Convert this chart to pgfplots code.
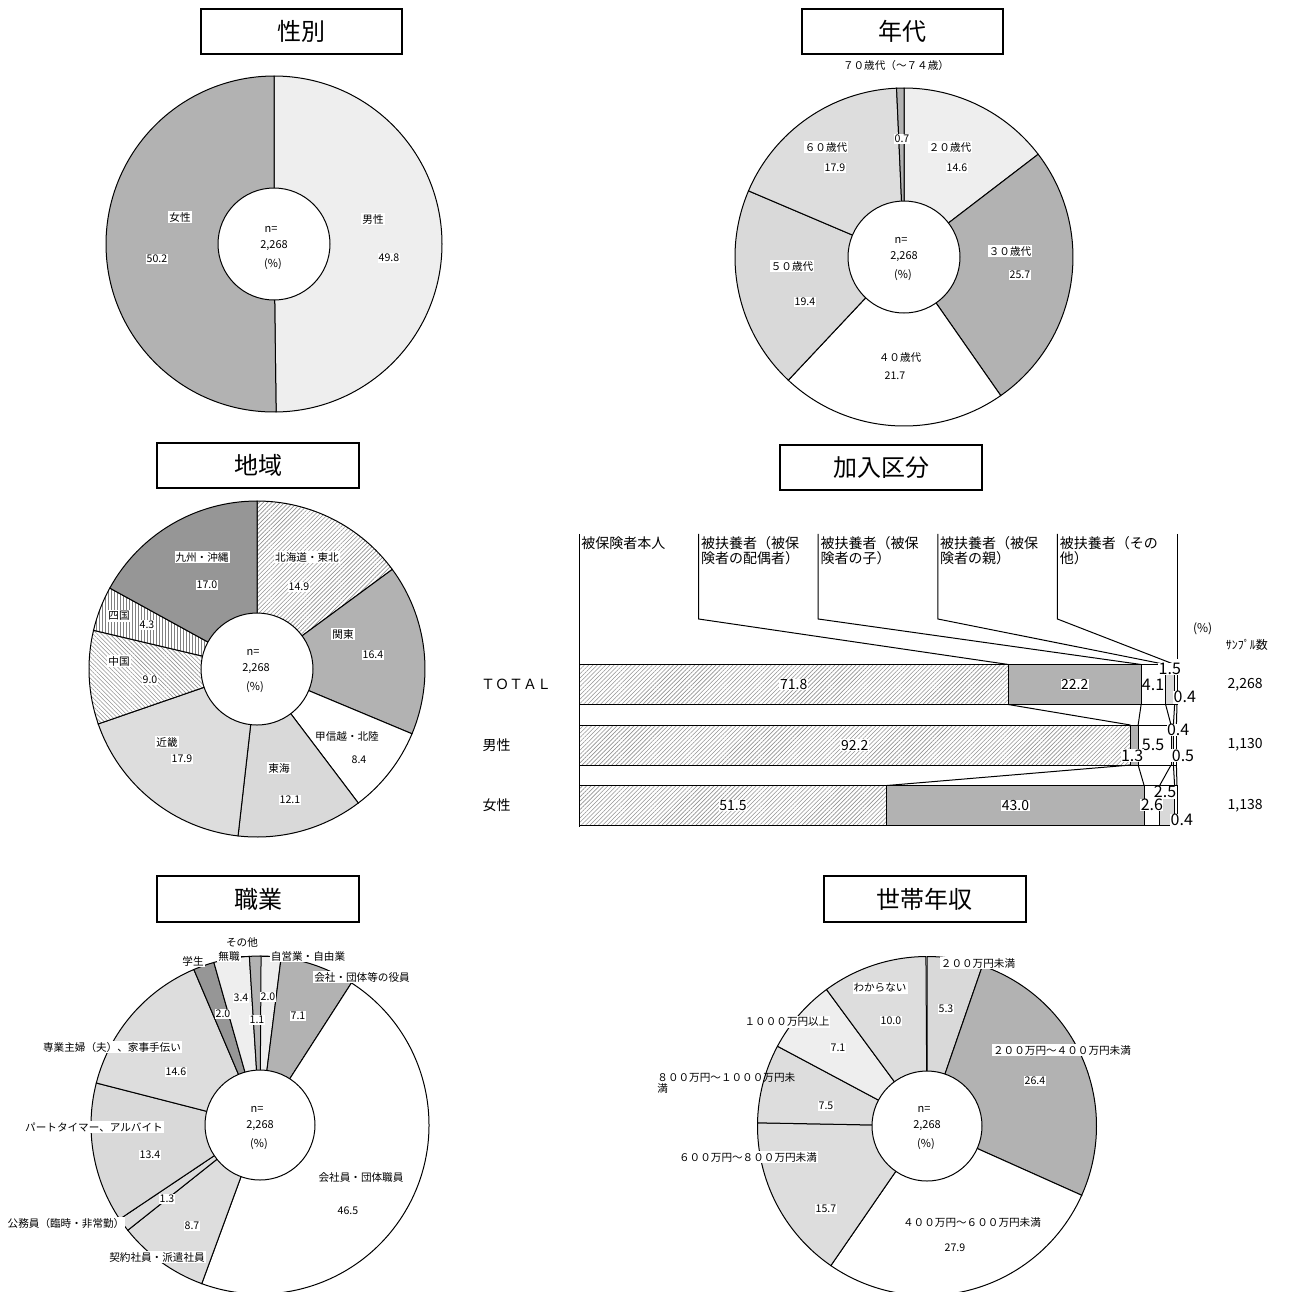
\documentclass[border=0pt]{standalone}
\usepackage{pgfplots}
\pgfplotsset{compat=1.18}
\usepackage{fontspec}
\setmainfont{Noto Sans CJK JP}
\usetikzlibrary{patterns.meta}

\definecolor{cMid}{HTML}{B2B2B2}
\definecolor{cDark}{HTML}{969696}
\definecolor{cLight}{HTML}{DDDDDD}
\definecolor{cDotS}{HTML}{EEEEEE}
\definecolor{cDotD}{HTML}{D9D9D9}

\tikzset{
  wedge/.style={draw=black, line width=0.5pt},
  sMid/.style={fill=cMid},
  sDark/.style={fill=cDark},
  sLight/.style={fill=cLight},
  sWhite/.style={fill=white},
  sDotS/.style={fill=cDotS},
  sDotD/.style={fill=cDotD},
  sDiagL/.style={preaction={fill=white}, pattern={Lines[angle=45,distance=1.5pt,line width=0.3pt]}, pattern color=gray!85},
  sDiagR/.style={preaction={fill=white}, pattern={Lines[angle=-45,distance=1.5pt,line width=0.3pt]}, pattern color=gray!85},
  sVert/.style={preaction={fill=white}, pattern={Lines[angle=90,distance=1.5pt,line width=0.3pt]}, pattern color=gray},
  lab/.style={font=\fontsize{5.3}{6}\selectfont, fill=white, inner sep=0.5pt},
  ctr/.style={font=\fontsize{5.5}{6}\selectfont, inner sep=0pt},
  ttl/.style={font=\fontsize{12}{13}\selectfont},
  barlab/.style={font=\fontsize{7}{8}\selectfont, fill=white, inner sep=0.3pt},
  smlab/.style={font=\fontsize{8}{9}\selectfont, fill=white, inner sep=0.2pt},
  hdr/.style={font=\fontsize{7}{7.5}\selectfont, anchor=north west, align=left, inner sep=1pt},
}

% donut: cx, cy (pixel units of the background axis), R, r, list value/style (clockwise from top)
\newcommand{\donut}[5]{%
  \gdef\cum{0}%
  \foreach \v/\st in {#5}{%
    \pgfmathsetmacro\aa{90-3.6*\cum}%
    \pgfmathsetmacro\bb{90-3.6*(\cum+\v)}%
    \edef\temp{\noexpand\filldraw[wedge,\st] (axis cs:#1,#2) -- ++(\aa:#3) arc[start angle=\aa,end angle=\bb,radius=#3] -- cycle;}%
    \temp
    \pgfmathsetmacro\nc{\cum+\v}%
    \global\let\cum\nc
  }%
  \filldraw[wedge,fill=white] (axis cs:#1,#2) circle[radius=#4];
}
\newcommand{\ttlbox}[5]{%
  \draw[line width=0.75pt] (axis cs:#1,#2) rectangle (axis cs:#3,#4);
  \node[ttl] at (axis cs:{(#1+#3)/2},{(#2+#4)/2}) {#5};
}
\newcommand{\ctrtext}[2]{%
  \node[ctr] at (axis cs:#1-3,#2-17) {n=};
  \node[ctr] at (axis cs:#1,#2) {2,268};
  \node[ctr] at (axis cs:#1-1,#2+18) {(\%)};
}
\pgfplotsset{baraxis/.style={at={(289.5pt,232.5pt)}, anchor=south west, scale only axis,
  width=299pt, height=146.5pt, xmin=0, xmax=100, ymin=-2.488, ymax=2.355,
  y dir=reverse, hide axis, clip=false}}

\begin{document}
\begin{tikzpicture}
\useasboundingbox (0,0) rectangle (644.5pt,646pt);
% ---------- background axis in pixel units: pies, titles ----------
\begin{axis}[at={(0pt,0pt)}, anchor=south west, hide axis, x=0.5pt, y=0.5pt,
  xmin=0, xmax=1289, ymin=0, ymax=1292, y dir=reverse, clip=false]
\addplot[draw=none] coordinates {(0,0)};

% ===== 性別 =====
\ttlbox{201}{9}{402}{54}{性別}
\donut{274}{244}{84pt}{28pt}{49.8/sDotS, 50.2/sMid}
\ctrtext{274}{246}
\node[lab] at (axis cs:180,217) {女性};
\node[lab] at (axis cs:157,259) {50.2};
\node[lab] at (axis cs:373,219) {男性};
\node[lab] at (axis cs:389,258) {49.8};

% ===== 年代 =====
\ttlbox{802}{9}{1003}{54}{年代}
\node[font=\fontsize{5.3}{6}\selectfont] at (axis cs:896,65) {７０歳代（～７４歳）};
\donut{904}{257}{84.5pt}{28pt}{14.6/sDotS, 25.7/sMid, 21.7/sWhite, 19.4/sDotD, 17.9/sLight, 0.7/sMid}
\ctrtext{904}{257}
\node[lab] at (axis cs:950,147) {２０歳代};
\node[lab] at (axis cs:957,168) {14.6};
\node[lab] at (axis cs:1010,251) {３０歳代};
\node[lab] at (axis cs:1020,275) {25.7};
\node[lab] at (axis cs:900,357) {４０歳代};
\node[lab] at (axis cs:895,376) {21.7};
\node[lab] at (axis cs:792,266) {５０歳代};
\node[lab] at (axis cs:805,302) {19.4};
\node[lab] at (axis cs:826,147) {６０歳代};
\node[lab] at (axis cs:835,168) {17.9};
\node[lab] at (axis cs:902,139) {0.7};

% ===== 地域 =====
\ttlbox{157}{443}{359}{488}{地域}
\donut{257}{669}{84pt}{28pt}{14.9/sDiagL, 16.4/sMid, 8.4/sWhite, 12.1/sDotD, 17.9/sLight, 9.0/sDiagR, 4.3/sVert, 17.0/sDark}
\ctrtext{256}{669}
\node[lab] at (axis cs:202,557) {九州・沖縄};
\node[lab] at (axis cs:207,585) {17.0};
\node[lab] at (axis cs:307,557) {北海道・東北};
\node[lab] at (axis cs:299,587) {14.9};
\node[lab] at (axis cs:343,634) {関東};
\node[lab] at (axis cs:373,655) {16.4};
\node[lab] at (axis cs:347,736) {甲信越・北陸};
\node[lab] at (axis cs:359,760) {8.4};
\node[lab] at (axis cs:279,768) {東海};
\node[lab] at (axis cs:290,800) {12.1};
\node[lab] at (axis cs:167,742) {近畿};
\node[lab] at (axis cs:182,759) {17.9};
\node[lab] at (axis cs:119,661) {中国};
\node[lab] at (axis cs:150,680) {9.0};
\node[lab] at (axis cs:119,616) {四国};
\node[lab] at (axis cs:147,625) {4.3};

% ===== 加入区分 title =====
\ttlbox{780}{445}{982}{490}{加入区分}

% ===== 職業 =====
\ttlbox{157}{876}{359}{922}{職業}
\donut{260}{1125}{84.5pt}{27.5pt}{2.0/sDotS, 7.1/sMid, 46.5/sWhite, 8.7/sLight, 1.3/sLight, 13.4/sDotD, 14.6/sLight, 2.0/sDark, 3.4/sDotS, 1.1/sMid}
\ctrtext{260}{1126}
\draw[line width=0.4pt] (axis cs:241,956) -- (axis cs:252,956);
\draw[line width=0.4pt] (axis cs:262,956) -- (axis cs:271,956);
\node[lab] at (axis cs:362,977) {会社・団体等の役員};
\node[lab] at (axis cs:298,1016) {7.1};
\node[lab] at (axis cs:268,997) {2.0};
\node[lab] at (axis cs:257,1020) {1.1};
\node[lab] at (axis cs:241,998) {3.4};
\node[lab] at (axis cs:223,1014) {2.0};
\node[lab] at (axis cs:193,961) {学生};
\node[lab] at (axis cs:229,956) {無職};
\node[lab] at (axis cs:242,942) {その他};
\node[lab] at (axis cs:308,956) {自営業・自由業};
\node[lab] at (axis cs:112,1047) {専業主婦（夫）、家事手伝い};
\node[lab] at (axis cs:176,1072) {14.6};
\node[lab] at (axis cs:94,1127) {パートタイマー、アルバイト};
\node[lab] at (axis cs:150,1155) {13.4};
\node[lab] at (axis cs:167,1199) {1.3};
\node[lab] at (axis cs:66,1223) {公務員（臨時・非常勤）};
\node[lab] at (axis cs:192,1226) {8.7};
\node[lab] at (axis cs:157,1257) {契約社員・派遣社員};
\node[lab] at (axis cs:361,1177) {会社員・団体職員};
\node[lab] at (axis cs:348,1211) {46.5};

% ===== 世帯年収 =====
\ttlbox{824}{876}{1026}{922}{世帯年収}
\donut{927}{1126}{84.75pt}{27.5pt}{5.3/sDotD, 26.4/sMid, 27.9/sWhite, 15.7/sLight, 7.5/sLight, 7.1/sDotS, 10.0/sLight}
\ctrtext{927}{1126}
\node[lab] at (axis cs:978,963) {２００万円未満};
\node[lab] at (axis cs:946,1009) {5.3};
\node[lab] at (axis cs:1062,1050) {２００万円～４００万円未満};
\node[lab] at (axis cs:1035,1081) {26.4};
\node[lab] at (axis cs:972,1222) {４００万円～６００万円未満};
\node[lab] at (axis cs:955,1248) {27.9};
\node[lab] at (axis cs:748,1157) {６００万円～８００万円未満};
\node[lab] at (axis cs:826,1209) {15.7};
\node[lab, anchor=north west, align=left, font=\fontsize{5.3}{5.8}\selectfont, fill=none] at (axis cs:656,1071) {８００万円～１０００万円未\\満};
\node[lab] at (axis cs:826,1106) {7.5};
\node[lab] at (axis cs:787,1022) {１０００万円以上};
\node[lab] at (axis cs:838,1048) {7.1};
\node[lab] at (axis cs:880,988) {わからない};
\node[lab] at (axis cs:891,1021) {10.0};
\end{axis}

% ---------- 加入区分: stacked bar chart ----------
\begin{axis}[baraxis, xbar stacked, bar width=20pt]
\addplot[sDiagL, draw=black, line width=0.5pt] coordinates {(71.8,0) (92.2,1) (51.5,2)};
\addplot[sMid, draw=black, line width=0.5pt] coordinates {(22.2,0) (1.3,1) (43.0,2)};
\addplot[sWhite, draw=black, line width=0.5pt] coordinates {(4.1,0) (5.5,1) (2.6,2)};
\addplot[sDotD, draw=black, line width=0.5pt] coordinates {(1.5,0) (0.4,1) (2.5,2)};
\addplot[sWhite, draw=black, line width=0.5pt] coordinates {(0.4,0) (0.5,1) (0.4,2)};
\end{axis}

% ---------- overlay with the same geometry: lines and labels ----------
\begin{axis}[baraxis]
\addplot[draw=none] coordinates {(0,0)};
% axis line and leader lines from the headers
\draw[line width=0.5pt] (axis cs:0,-2.488) -- (axis cs:0,2.355);
\draw[line width=0.5pt] (axis cs:20,-2.488) -- (axis cs:20,-1.083) -- (axis cs:71.8,-0.331);
\draw[line width=0.5pt] (axis cs:40,-2.488) -- (axis cs:40,-1.083) -- (axis cs:94.0,-0.331);
\draw[line width=0.5pt] (axis cs:60,-2.488) -- (axis cs:60,-1.083) -- (axis cs:98.1,-0.331);
\draw[line width=0.5pt] (axis cs:80,-2.488) -- (axis cs:80,-1.083) -- (axis cs:99.6,-0.331);
\draw[line width=0.5pt] (axis cs:100,-2.488) -- (axis cs:100,-0.42);
% series lines between bars
\foreach \a/\b in {71.8/92.2, 94.0/93.5, 98.1/99.0, 99.6/99.4, 100/99.9}
  {\edef\temp{\noexpand\draw[line width=0.5pt] (axis cs:\a,0.331) -- (axis cs:\b,0.669);}\temp}
\foreach \a/\b in {92.2/51.5, 93.5/94.5, 99.0/97.1, 99.4/99.6, 99.9/100}
  {\edef\temp{\noexpand\draw[line width=0.5pt] (axis cs:\a,1.331) -- (axis cs:\b,1.669);}\temp}

% headers
\node[hdr] at (axis cs:0,-2.488) {被保険者本人};
\node[hdr] at (axis cs:20,-2.488) {被扶養者（被保\\険者の配偶者）};
\node[hdr] at (axis cs:40,-2.488) {被扶養者（被保\\険者の子）};
\node[hdr] at (axis cs:60,-2.488) {被扶養者（被保\\険者の親）};
\node[hdr] at (axis cs:80,-2.488) {被扶養者（その\\他）};
\node[font=\fontsize{6}{7}\selectfont] at (axis cs:104.3,-0.92) {(\%)};
\node[font=\fontsize{6}{7}\selectfont] at (axis cs:111.7,-0.65) {ｻﾝﾌﾟﾙ数};

% category labels and sample sizes
\node[font=\fontsize{7}{8}\selectfont] at (axis cs:-10.5,0) {ＴＯＴＡＬ};
\node[font=\fontsize{7}{8}\selectfont, anchor=west, inner sep=0pt] at (axis cs:-16.2,1) {男性};
\node[font=\fontsize{7}{8}\selectfont, anchor=west, inner sep=0pt] at (axis cs:-16.2,2) {女性};
\node[font=\fontsize{7}{8}\selectfont] at (axis cs:111.4,0) {2,268};
\node[font=\fontsize{7}{8}\selectfont] at (axis cs:111.4,1) {1,130};
\node[font=\fontsize{7}{8}\selectfont] at (axis cs:111.4,2) {1,138};

% value labels
\node[barlab] at (axis cs:35.9,0) {71.8};
\node[barlab] at (axis cs:82.9,0) {22.2};
\node[smlab] at (axis cs:96.0,0) {4.1};
\node[smlab] at (axis cs:98.8,-0.26) {1.5};
\node[smlab] at (axis cs:101.3,0.21) {0.4};
\node[barlab] at (axis cs:46.1,1) {92.2};
\node[smlab] at (axis cs:100.2,0.75) {0.4};
\node[smlab] at (axis cs:96.0,1) {5.5};
\node[smlab] at (axis cs:92.5,1.17) {1.3};
\node[smlab] at (axis cs:101.0,1.17) {0.5};
\node[barlab] at (axis cs:25.75,2) {51.5};
\node[barlab] at (axis cs:73.0,2) {43.0};
\node[smlab] at (axis cs:98.0,1.78) {2.5};
\node[smlab] at (axis cs:95.8,1.99) {2.6};
\node[smlab] at (axis cs:100.8,2.24) {0.4};
\end{axis}
\end{tikzpicture}
\end{document}
